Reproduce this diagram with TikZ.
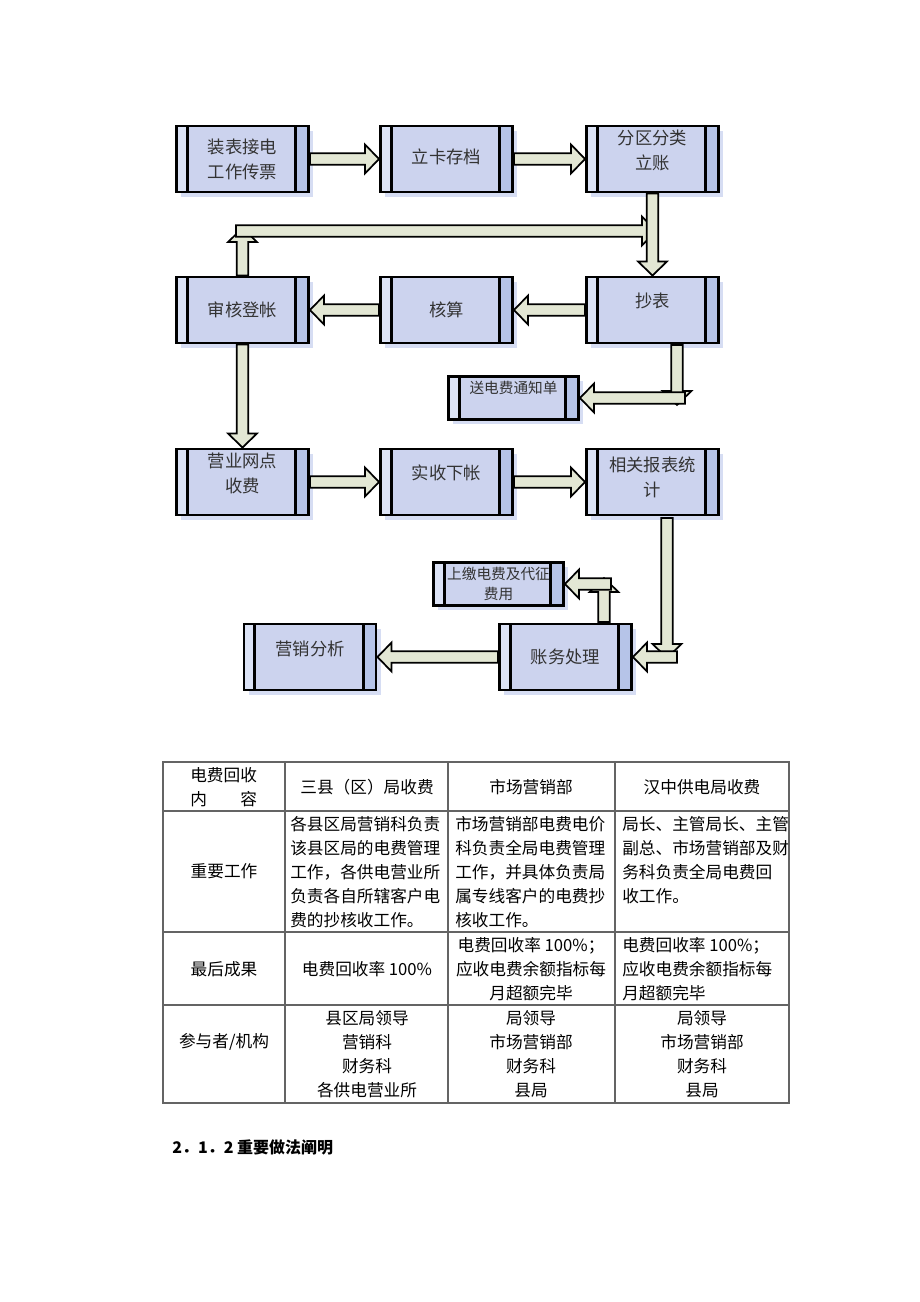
\documentclass[tikz,border=0pt]{standalone}
\usepackage{fontspec}
\newfontfamily\cjk{Noto Sans CJK SC}
\usetikzlibrary{calc,shadows}
\definecolor{boxfill}{RGB}{204,211,238}
\definecolor{stripl}{RGB}{220,227,246}
\definecolor{stripr}{RGB}{182,196,232}
\definecolor{shadowc}{RGB}{214,221,243}
\definecolor{arrowfill}{RGB}{227,231,212}
\definecolor{rulec}{RGB}{100,100,100}
\newcommand{\blkarrow}[2]{%
  \filldraw[blk] ($(#1)!4.3pt!90:(#2)$) -- ($(#2)!10.5pt!(#1)!4.3pt!-90:(#1)$) -- ($(#2)!10.5pt!(#1)!10.8pt!-90:(#1)$) -- (#2) -- ($(#2)!10.5pt!(#1)!10.8pt!90:(#1)$) -- ($(#2)!10.5pt!(#1)!4.3pt!90:(#1)$) -- ($(#1)!4.3pt!-90:(#2)$) -- cycle;}
\begin{document}
\begin{tikzpicture}[x=0.75pt,y=-0.75pt,every node/.style={inner sep=0pt},
  proc/.style={draw,line width=2.2pt,fill=boxfill,minimum width=99pt,minimum height=49.5pt,align=center,text=black!80,
    font=\cjk\fontsize{13}{18.75}\selectfont,
    drop shadow={shadow xshift=3.5pt,shadow yshift=-3.5pt,fill=shadowc,opacity=1},
    path picture={
      \fill[stripl] (path picture bounding box.south west) rectangle ([xshift=8pt]path picture bounding box.north west);
      \fill[stripr] (path picture bounding box.south east) rectangle ([xshift=-9.5pt]path picture bounding box.north east);
      \draw[line width=2.2pt] ([xshift=8pt]path picture bounding box.south west) -- ([xshift=8pt]path picture bounding box.north west);
      \draw[line width=2.2pt] ([xshift=-9.5pt]path picture bounding box.south east) -- ([xshift=-9.5pt]path picture bounding box.north east);}},
  sproc/.style={proc,minimum width=97.5pt,minimum height=32.5pt,font=\cjk\fontsize{11}{15}\selectfont},
  lift/.style={text depth=#1},
  blk/.style={draw,line width=1.3pt,fill=arrowfill,line join=miter},
  cell/.style={font=\cjk\fontsize{12.5}{18}\selectfont,align=center},
  lcell/.style={cell,align=left,anchor=west},
  rule/.style={draw=rulec,line width=0.9pt}]
\useasboundingbox (0,0) rectangle (920,1302);
\node[proc](zbjd) at (242.5,159){装表接电\\工作传票};
\node[proc,lift=4.5pt](lkcd) at (446.5,159){立卡存档};
\node[proc,lift=13.5pt](fqfl) at (652.5,159){分区分类\\立账};
\node[proc](shdz) at (242.5,310){审核登帐};
\node[proc](hs) at (446.5,310){核算};
\node[proc,lift=15pt](cb) at (652.5,310){抄表};
\node[sproc,lift=16.5pt](sdf) at (513.5,398){送电费通知单};
\node[proc,lift=13.5pt](yywd) at (242.5,482){营业网点\\收费};
\node[proc,lift=15pt](sxxz) at (446.5,482){实收下帐};
\node[proc,lift=7.5pt](xgbb) at (652.5,482){相关报表统\\计};
\node[sproc](sjdf) at (498.5,584){上缴电费及代征\\费用};
\node[proc,lift=13.5pt](yxfx) at (310,657){营销分析};
\node[proc](zwcl) at (565.5,657){账务处理};
\coordinate(lp0) at (236,231);
\coordinate(lp1) at (656,231);
\coordinate(lpu) at (242.5,228);
\coordinate(cbs) at (677,345);
\coordinate(cbd) at (677,405);
\coordinate(cbl) at (685,398);
\coordinate(xgs) at (667,518);
\coordinate(xgd) at (667,658);
\coordinate(xgl) at (677,657);
\coordinate(zwn) at (604,622);
\coordinate(zwu) at (604,578);
\coordinate(zwl) at (611,584);
\blkarrow{zbjd.east}{lkcd.west}
\blkarrow{lkcd.east}{fqfl.west}
\blkarrow{shdz.north}{lpu}
\blkarrow{lp0}{lp1}
\blkarrow{fqfl.south}{cb.north}
\blkarrow{cb.west}{hs.east}
\blkarrow{hs.west}{shdz.east}
\blkarrow{cbs}{cbd}
\blkarrow{cbl}{sdf.east}
\blkarrow{shdz.south}{yywd.north}
\blkarrow{yywd.east}{sxxz.west}
\blkarrow{sxxz.east}{xgbb.west}
\blkarrow{xgs}{xgd}
\blkarrow{xgl}{zwcl.east}
\blkarrow{zwn}{zwu}
\blkarrow{zwl}{sjdf.east}
\blkarrow{zwcl.west}{yxfx.east}
\draw[rule] (163,762) rectangle (789,1103);
\draw[rule] (163,811) -- (789,811);
\draw[rule] (163,932) -- (789,932);
\draw[rule] (163,1005) -- (789,1005);
\draw[rule] (285,762) -- (285,1103);
\draw[rule] (448,762) -- (448,1103);
\draw[rule] (615,762) -- (615,1103);
\node[lcell](h1) at (190,787){电费回收\\内\hspace{2em}容};
\node[cell](h2) at (367,787){三县（区）局收费};
\node[cell](h3) at (531,787){市场营销部};
\node[cell](h4) at (702,787){汉中供电局收费};
\node[cell](r1) at (224,871){重要工作};
\node[lcell](r1a) at (290,872){各县区局营销科负责\\该县区局的电费管理\\工作，各供电营业所\\负责各自所辖客户电\\费的抄核收工作。};
\node[lcell](r1b) at (455,872){市场营销部电费电价\\科负责全局电费管理\\工作，并具体负责局\\属专线客户的电费抄\\核收工作。};
\node[lcell](r1c) at (622,860){局长、主管局长、主管\\副总、市场营销部及财\\务科负责全局电费回\\收工作。};
\node[cell](r2) at (224,969){最后成果};
\node[cell](r2a) at (367,969){电费回收率 100\%};
\node[cell](r2b) at (531,969){电费回收率 100\%；\\应收电费余额指标每\\月超额完毕};
\node[lcell](r2c) at (622,969){电费回收率 100\%；\\应收电费余额指标每\\月超额完毕};
\node[cell](r3) at (224,1042){参与者/机构};
\node[cell](r3a) at (367,1054){县区局领导\\营销科\\财务科\\各供电营业所};
\node[cell](r3b) at (531,1054){局领导\\市场营销部\\财务科\\县局};
\node[cell](r3c) at (702,1054){局领导\\市场营销部\\财务科\\县局};
\node[anchor=west,font=\cjk\bfseries\fontsize{12}{14}\selectfont](hd) at (172,1147){2．1．2 重要做法阐明};
\end{tikzpicture}
\end{document}
